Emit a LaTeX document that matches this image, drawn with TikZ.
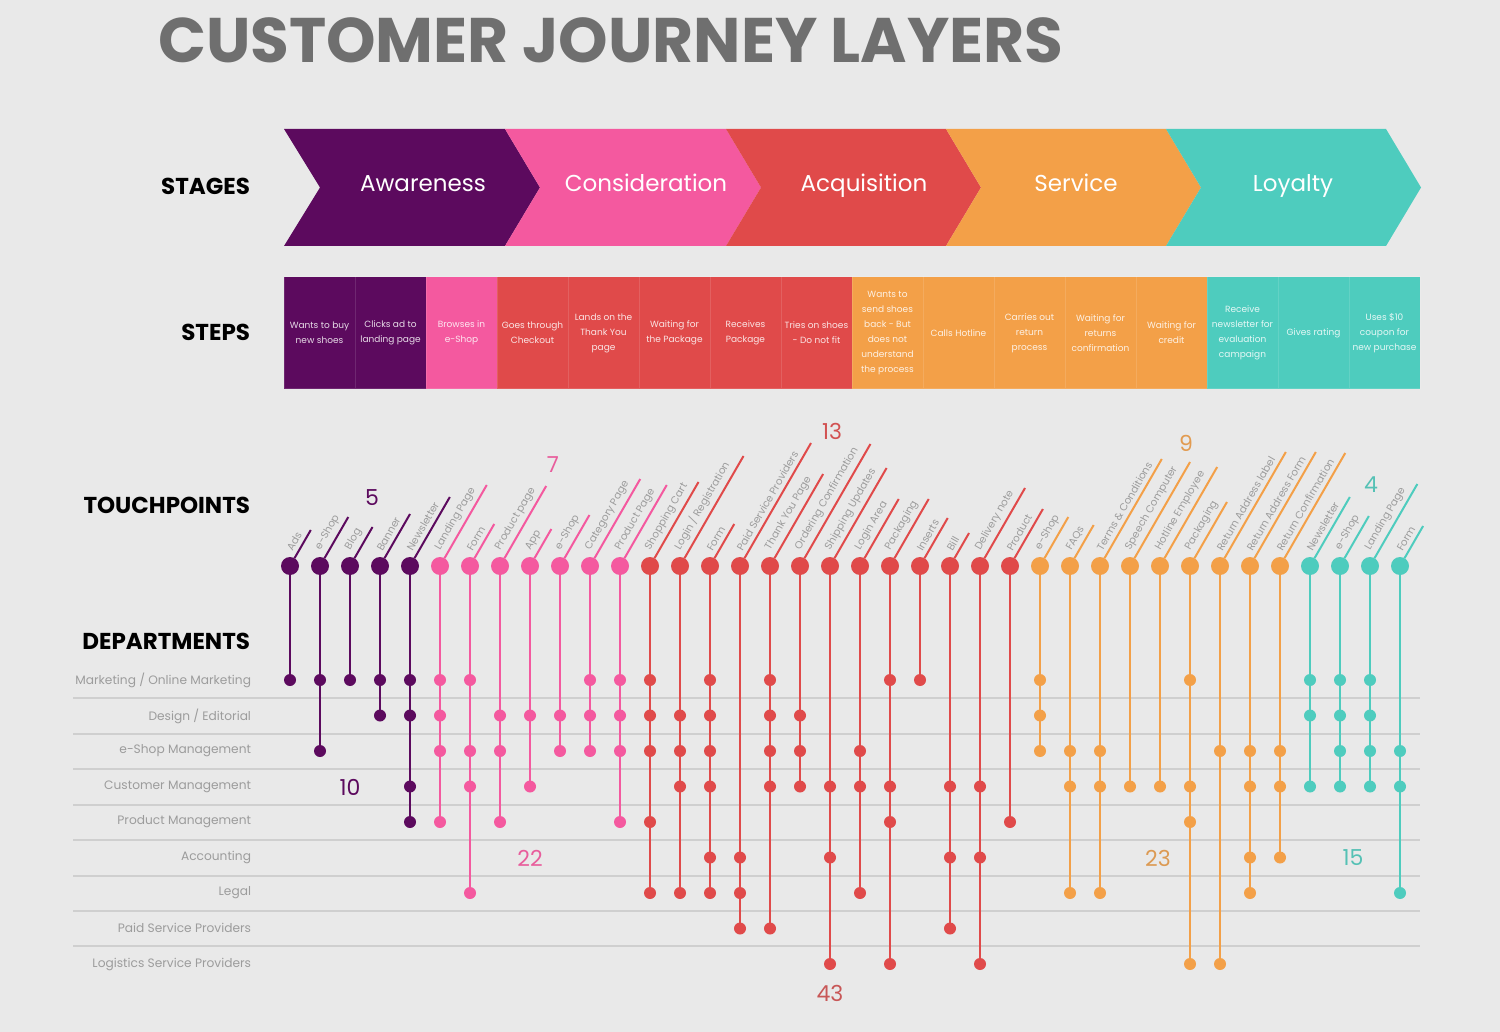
\documentclass[tikz,border=0pt]{standalone}
\usepackage{fontspec}
\setmainfont{Poppins}
\usetikzlibrary{positioning,calc}

\definecolor{bg}{HTML}{E9E9E9}
\definecolor{cAware}{HTML}{5C0A5E}
\definecolor{cConsid}{HTML}{F4599F}
\definecolor{cAcq}{HTML}{E04A4A}
\definecolor{cServ}{HTML}{F3A048}
\definecolor{cLoy}{HTML}{4ECCBE}
\definecolor{titlegrey}{HTML}{6F6F6F}
\definecolor{labelgrey}{HTML}{9C9C9C}
\definecolor{rulegrey}{HTML}{CFCFCF}

\begin{document}
\begin{tikzpicture}[x=1pt,y=-1pt]

\tikzset{every node/.style = {inner sep=0pt, outer sep=0pt}}
\tikzstyle{heading} = [anchor=east, text=black, font=\fontsize{23}{23}\selectfont\bfseries]
\tikzstyle{stage}   = [anchor=base, text=white, font=\fontsize{23}{23}\selectfont]
\tikzstyle{stepbox} = [rectangle, minimum height=112pt, minimum width=71pt, align=center, text=white, text opacity=.85,
                       draw=white, draw opacity=.12, line width=1pt, font=\fontsize{9}{15}\selectfont]
\tikzstyle{dept}    = [anchor=east, text=labelgrey, font=\fontsize{12.2}{12.2}\selectfont]
\tikzstyle{rule}    = [draw=rulegrey, line width=1.5pt]
\tikzstyle{tpdot}   = [circle, minimum size=18pt]
\tikzstyle{deptdot} = [circle, minimum size=12pt]
\tikzstyle{stem}    = [line width=2pt]
\tikzstyle{tplabel} = [rotate=60, anchor=south west, inner sep=1pt, text=labelgrey, font=\fontsize{10.3}{10.3}\selectfont]
\tikzstyle{count}   = [font=\fontsize{22}{22}\selectfont]

\useasboundingbox (0,0) rectangle (1500,1032);
\fill[bg] (0,0) rectangle (1500,1032);

\node[anchor=base west, text=titlegrey, font=\fontsize{63}{63}\selectfont\bfseries] (title) at (158,63) {CUSTOMER JOURNEY LAYERS};

% stages
\fill[cAware]  (284,129)  -- (505,129)  -- (540,187.5)  -- (505,246)  -- (284,246)  -- (320,187.5)  -- cycle;
\fill[cConsid] (505,129)  -- (726,129)  -- (761,187.5)  -- (726,246)  -- (505,246)  -- (540,187.5)  -- cycle;
\fill[cAcq]    (726,129)  -- (946,129)  -- (981,187.5)  -- (946,246)  -- (726,246)  -- (761,187.5)  -- cycle;
\fill[cServ]   (946,129)  -- (1166,129) -- (1201,187.5) -- (1166,246) -- (946,246)  -- (981,187.5)  -- cycle;
\fill[cLoy]    (1166,129) -- (1386,129) -- (1421,187.5) -- (1386,246) -- (1166,246) -- (1201,187.5) -- cycle;

\node[heading] (stages) at (250,186) {STAGES};
\node[stage]   (aware)  at (423,192)  {Awareness};
\node[stage]   (consid) at (646,192)  {Consideration};
\node[stage]   (acq)    at (864,192)  {Acquisition};
\node[stage]   (serv)   at (1076,192) {Service};
\node[stage]   (loy)    at (1293,192) {Loyalty};

% steps
\node[heading] (steps) at (250,332) {STEPS};
\node[stepbox, fill=cAware]                   (s1)  at (319.5,333) {Wants to buy\\new shoes};
\node[stepbox, fill=cAware,  right=0pt of s1]  (s2)  {Clicks ad to\\landing page};
\node[stepbox, fill=cConsid, right=0pt of s2]  (s3)  {Browses in\\e-Shop};
\node[stepbox, fill=cAcq,    right=0pt of s3]  (s4)  {Goes through\\Checkout};
\node[stepbox, fill=cAcq,    right=0pt of s4]  (s5)  {Lands on the\\Thank You\\page};
\node[stepbox, fill=cAcq,    right=0pt of s5]  (s6)  {Waiting for\\the Package};
\node[stepbox, fill=cAcq,    right=0pt of s6]  (s7)  {Receives\\Package};
\node[stepbox, fill=cAcq,    right=0pt of s7]  (s8)  {Tries on shoes\\- Do not fit};
\node[stepbox, fill=cServ,   right=0pt of s8]  (s9)  {Wants to\\send shoes\\back - But\\does not\\understand\\the process};
\node[stepbox, fill=cServ,   right=0pt of s9]  (s10) {Calls Hotline};
\node[stepbox, fill=cServ,   right=0pt of s10] (s11) {Carries out\\return\\process};
\node[stepbox, fill=cServ,   right=0pt of s11] (s12) {Waiting for\\returns\\confirmation};
\node[stepbox, fill=cServ,   right=0pt of s12] (s13) {Waiting for\\credit};
\node[stepbox, fill=cLoy,    right=0pt of s13] (s14) {Receive\\newsletter for\\evaluation\\campaign};
\node[stepbox, fill=cLoy,    right=0pt of s14] (s15) {Gives rating};
\node[stepbox, fill=cLoy,    right=0pt of s15] (s16) {Uses \$10\\coupon for\\new purchase};

% departments
\node[heading] (touch) at (250,505) {TOUCHPOINTS};
\node[heading] (depts) at (250,641) {DEPARTMENTS};
\node[dept] (r1) at (251,680) {Marketing / Online Marketing};
\node[dept] (r2) at (251,716) {Design / Editorial};
\node[dept] (r3) at (251,751) {e-Shop Management};
\node[dept] (r4) at (251,787) {Customer Management};
\node[dept] (r5) at (251,822) {Product Management};
\node[dept] (r6) at (251,858) {Accounting};
\node[dept] (r7) at (251,893) {Legal};
\node[dept] (r8) at (251,928) {Paid Service Providers};
\node[dept] (r9) at (251,964) {Logistics Service Providers};
\draw[rule] (73,698) -- (1420,698);
\draw[rule] (73,734) -- (1420,734);
\draw[rule] (73,769) -- (1420,769);
\draw[rule] (73,805) -- (1420,805);
\draw[rule] (73,840) -- (1420,840);
\draw[rule] (73,876) -- (1420,876);
\draw[rule] (73,911) -- (1420,911);
\draw[rule] (73,946) -- (1420,946);

% touchpoints: index / label / rise of the stick / department rows / colour
\foreach \i/\tp/\rise/\rows/\col in {
  0/Ads/36/{1}/cAware,
  1/e-Shop/49/{1,3}/cAware,
  2/Blog/39/{1}/cAware,
  3/Banner/52/{1,2}/cAware,
  4/Newsletter/69/{1,2,4,5}/cAware,
  5/Landing Page/81/{1,2,3,5}/cConsid,
  6/Form/42/{1,3,4,7}/cConsid,
  7/Product page/80/{2,3,5}/cConsid,
  8/App/37/{2,4}/cConsid,
  9/e-Shop/51/{2,3}/cConsid,
  10/Category Page/87/{1,2,3}/cConsid,
  11/Product Page/81/{1,2,3,5}/cConsid,
  12/Shopping Cart/84/{1,2,3,5,7}/cAcq,
  13/{Login / Registration}/110/{2,3,4,7}/cAcq,
  14/Form/42/{1,2,3,4,6,7}/cAcq,
  15/Paid Service Providers/123/{6,7,8}/cAcq,
  16/Thank You Page/92/{1,2,3,4,8}/cAcq,
  17/Ordering Confirmation/122/{2,3,4}/cAcq,
  18/Shipping Updates/98/{4,6,9}/cAcq,
  19/Login Area/67/{3,4,7}/cAcq,
  20/Packaging/67/{1,4,5,9}/cAcq,
  21/Inserts/48/{1}/cAcq,
  22/Bill/33/{4,6,8}/cAcq,
  23/Delivery note/78/{4,6,9}/cAcq,
  24/Product/57/{5}/cAcq,
  25/e-Shop/49/{1,2,3}/cServ,
  26/FAQs/41/{3,4,7}/cServ,
  27/Terms \& Conditions/107/{3,4,7}/cServ,
  28/Speech Computer/104/{4}/cServ,
  29/Hotline Employee/99/{4}/cServ,
  30/Packaging/64/{1,4,5,9}/cServ,
  31/Return Address label/114/{3,9}/cServ,
  32/Return Address Form/114/{3,4,6,7}/cServ,
  33/Return Confirmation/113/{3,4,6}/cServ,
  34/Newsletter/69/{1,2,4}/cLoy,
  35/e-Shop/50/{1,2,3,4}/cLoy,
  36/Landing Page/82/{1,2,3,4}/cLoy,
  37/Form/40/{3,4,7}/cLoy}{
  \node[tpdot, fill=\col] (tp\i) at ({290+30*\i},566) {};
  \coordinate (tip\i) at ({290+30*\i+0.5774*\rise},{566-\rise});
  \draw[stem, draw=\col] (tp\i) -- (tip\i);
  \node[tplabel] (lb\i) at ($(tp\i)+(3,-13)$) {\tp};
  \foreach \r in \rows {
    \node[deptdot, fill=\col] (d\i-\r) at ({290+30*\i},{680+35.5*(\r-1)}) {};
    \draw[stem, draw=\col] (tp\i) -- (d\i-\r);
  }
}

% counts
\node[count, text=cAware]          (n5)  at (372,498)  {5};
\node[count, text=cConsid!90!gray] (n7)  at (553,465)  {7};
\node[count, text=cAcq!85!gray]    (n13) at (832,431)  {13};
\node[count, text=cServ!85!gray]   (n9)  at (1186,443) {9};
\node[count, text=cLoy!85!gray]    (n4)  at (1371,485) {4};
\node[count, text=cAware]          (n10) at (350,787)  {10};
\node[count, text=cConsid!90!gray] (n22) at (530,858)  {22};
\node[count, text=cAcq!75!gray]    (n43) at (830,993)  {43};
\node[count, text=cServ!80!gray]   (n23) at (1158,858) {23};
\node[count, text=cLoy!85!gray]    (n15) at (1353,858) {15};

\end{tikzpicture}
\end{document}
